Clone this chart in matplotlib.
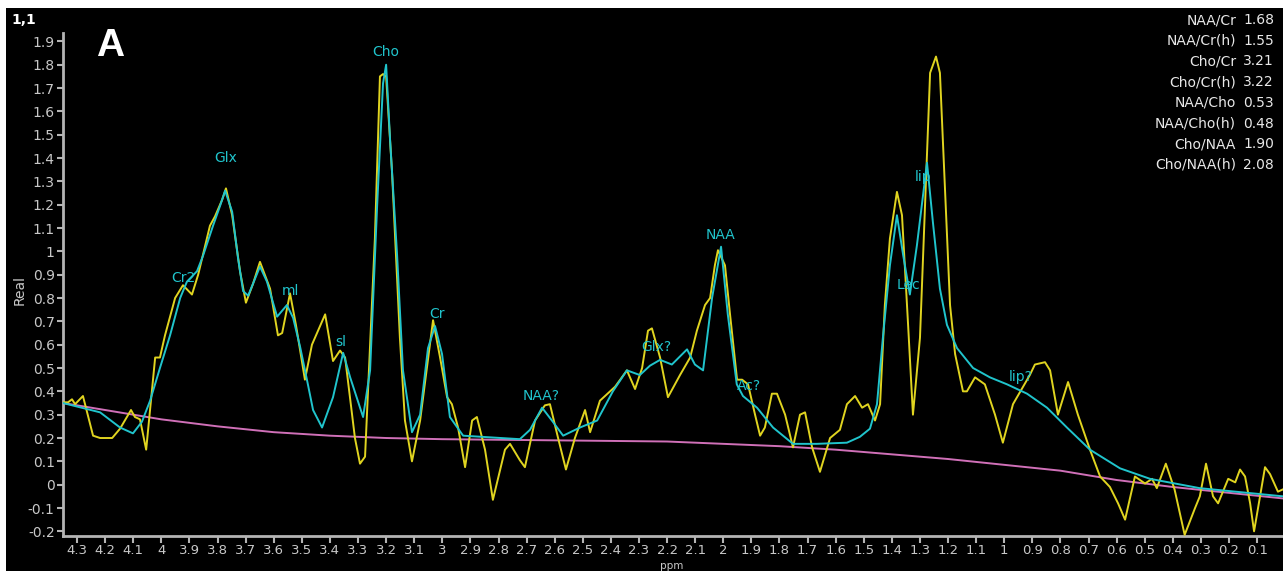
import matplotlib
matplotlib.use("Agg")
import matplotlib.pyplot as plt
from matplotlib.patches import Rectangle
import numpy as np

# Measured spectrum (real part), ppm axis runs right-to-left
spec_ppm = [4.350, 4.332, 4.318, 4.307, 4.279, 4.243, 4.218, 4.204, 4.175, 4.147,
            4.108, 4.094, 4.076, 4.054, 4.022, 4.005, 3.987, 3.951, 3.923, 3.891,
            3.869, 3.827, 3.809, 3.784, 3.770, 3.748, 3.720, 3.699, 3.674, 3.649,
            3.613, 3.585, 3.570, 3.542, 3.521, 3.489, 3.464, 3.417, 3.389, 3.364,
            3.346, 3.311, 3.293, 3.275, 3.240, 3.222, 3.211, 3.200, 3.179, 3.151,
            3.133, 3.108, 3.079, 3.033, 3.008, 2.983, 2.966, 2.944, 2.919, 2.894,
            2.877, 2.848, 2.820, 2.777, 2.759, 2.724, 2.706, 2.670, 2.635, 2.617,
            2.588, 2.560, 2.528, 2.492, 2.474, 2.439, 2.385, 2.343, 2.314, 2.289,
            2.268, 2.254, 2.225, 2.197, 2.154, 2.118, 2.094, 2.065, 2.047, 2.030,
            2.019, 1.994, 1.976, 1.951, 1.933, 1.912, 1.887, 1.869, 1.852, 1.827,
            1.809, 1.780, 1.752, 1.727, 1.709, 1.684, 1.656, 1.620, 1.585, 1.560,
            1.531, 1.506, 1.485, 1.460, 1.442, 1.425, 1.407, 1.382, 1.364, 1.343,
            1.325, 1.300, 1.282, 1.264, 1.243, 1.229, 1.211, 1.193, 1.175, 1.147,
            1.133, 1.104, 1.069, 1.033, 1.005, 0.969, 0.909, 0.891, 0.855, 0.837,
            0.809, 0.773, 0.738, 0.695, 0.659, 0.624, 0.595, 0.570, 0.535, 0.499,
            0.474, 0.457, 0.425, 0.394, 0.358, 0.321, 0.304, 0.282, 0.257, 0.239,
            0.203, 0.178, 0.161, 0.143, 0.125, 0.111, 0.072, 0.054, 0.026, 0.008]
spec_real = [0.353, 0.353, 0.366, 0.345, 0.380, 0.210, 0.200, 0.200, 0.200, 0.240,
             0.320, 0.290, 0.280, 0.150, 0.545, 0.545, 0.640, 0.800, 0.855, 0.815,
             0.900, 1.110, 1.150, 1.220, 1.270, 1.155, 0.915, 0.780, 0.860, 0.955,
             0.840, 0.640, 0.650, 0.820, 0.685, 0.450, 0.600, 0.730, 0.530, 0.575,
             0.545, 0.200, 0.090, 0.120, 1.055, 1.750, 1.760, 1.750, 1.340, 0.630,
             0.275, 0.100, 0.275, 0.705, 0.545, 0.375, 0.345, 0.245, 0.075, 0.275,
             0.290, 0.150, -0.065, 0.150, 0.175, 0.105, 0.075, 0.275, 0.340, 0.345,
             0.200, 0.065, 0.200, 0.320, 0.225, 0.360, 0.420, 0.490, 0.410, 0.500,
             0.660, 0.670, 0.545, 0.375, 0.470, 0.545, 0.660, 0.770, 0.800, 0.940,
             1.005, 0.940, 0.730, 0.450, 0.450, 0.430, 0.300, 0.210, 0.245, 0.390,
             0.390, 0.300, 0.160, 0.300, 0.310, 0.160, 0.055, 0.200, 0.235, 0.345,
             0.380, 0.330, 0.345, 0.275, 0.345, 0.770, 1.055, 1.255, 1.155, 0.700,
             0.300, 0.630, 1.195, 1.765, 1.835, 1.765, 1.270, 0.770, 0.560, 0.400,
             0.400, 0.460, 0.430, 0.300, 0.180, 0.345, 0.470, 0.515, 0.525, 0.490,
             0.300, 0.440, 0.300, 0.150, 0.035, -0.010, -0.080, -0.150, 0.035, 0.005,
             0.025, -0.015, 0.090, -0.020, -0.215, -0.100, -0.050, 0.090, -0.050, -0.080,
             0.025, 0.010, 0.065, 0.035, -0.080, -0.200, 0.075, 0.045, -0.030, -0.020]

# Fitted model
fit_ppm = [4.350, 4.218, 4.147, 4.101, 4.069, 4.040, 4.005, 3.969, 3.933, 3.909,
           3.873, 3.852, 3.816, 3.791, 3.773, 3.748, 3.727, 3.709, 3.691, 3.649,
           3.624, 3.588, 3.553, 3.531, 3.506, 3.481, 3.460, 3.428, 3.389, 3.353,
           3.328, 3.282, 3.257, 3.232, 3.211, 3.200, 3.186, 3.161, 3.140, 3.108,
           3.079, 3.051, 3.026, 3.001, 2.973, 2.926, 2.724, 2.688, 2.645, 2.610,
           2.570, 2.510, 2.449, 2.393, 2.343, 2.297, 2.261, 2.225, 2.183, 2.129,
           2.101, 2.072, 2.040, 2.008, 1.984, 1.952, 1.930, 1.880, 1.823, 1.752,
           1.667, 1.560, 1.514, 1.478, 1.453, 1.432, 1.407, 1.382, 1.360, 1.336,
           1.311, 1.275, 1.254, 1.229, 1.204, 1.168, 1.111, 1.051, 0.990, 0.919,
           0.848, 0.777, 0.695, 0.588, 0.481, 0.304, 0.008]
fit_real = [0.350, 0.310, 0.245, 0.220, 0.270, 0.360, 0.500, 0.640, 0.800, 0.870,
            0.915, 0.980, 1.110, 1.195, 1.260, 1.170, 0.970, 0.830, 0.810, 0.935,
            0.870, 0.720, 0.770, 0.715, 0.590, 0.445, 0.320, 0.245, 0.375, 0.565,
            0.460, 0.290, 0.490, 1.195, 1.720, 1.800, 1.480, 0.985, 0.490, 0.225,
            0.300, 0.585, 0.680, 0.560, 0.290, 0.210, 0.195, 0.235, 0.330, 0.275,
            0.210, 0.245, 0.275, 0.400, 0.490, 0.470, 0.510, 0.535, 0.515, 0.580,
            0.515, 0.490, 0.800, 1.020, 0.730, 0.430, 0.380, 0.330, 0.245, 0.175,
            0.175, 0.180, 0.205, 0.240, 0.345, 0.630, 0.940, 1.155, 0.985, 0.815,
            1.025, 1.380, 1.125, 0.840, 0.685, 0.585, 0.500, 0.460, 0.430, 0.390,
            0.330, 0.245, 0.150, 0.070, 0.025, -0.015, -0.050]

# Baseline
base_ppm = [4.35, 4.2, 4.0, 3.8, 3.6, 3.4, 3.2, 3.0, 2.6, 2.2, 2.0, 1.8, 1.6, 1.4,
            1.2, 1.0, 0.8, 0.6, 0.4, 0.2, 0.0]
base_real = [0.350, 0.320, 0.280, 0.250, 0.225, 0.210, 0.200, 0.195, 0.190, 0.185,
             0.175, 0.165, 0.150, 0.130, 0.110, 0.085, 0.060, 0.020, -0.010, -0.035,
             -0.060]

# Peak annotations
peak_names = ["Cr2", "Glx", "ml", "sl", "Cho", "Cr", "NAA?", "Glx?", "NAA", "Ac?",
              "Lec", "lip", "lip?"]
peak_ppm = [3.92, 3.77, 3.54, 3.36, 3.20, 3.02, 2.65, 2.24, 2.01, 1.91, 1.34, 1.29, 0.94]
peak_lbl_y = [0.885, 1.40, 0.83, 0.61, 1.855, 0.73, 0.38, 0.59, 1.07, 0.425, 0.855, 1.32, 0.46]

# Metabolite ratios
ratio_names = ["NAA/Cr", "NAA/Cr(h)", "Cho/Cr", "Cho/Cr(h)", "NAA/Cho", "NAA/Cho(h)",
               "Cho/NAA", "Cho/NAA(h)"]
ratio_values = [1.68, 1.55, 3.21, 3.22, 0.53, 0.48, 1.90, 2.08]

W, H = 1283, 571
narrow = ["Liberation Sans Narrow", "DejaVu Sans"]
grey = "#b4b4b4"

fig = plt.figure(figsize=(W / 100, H / 100), dpi=100)
fig.patch.set_facecolor("white")
fig.patches.append(Rectangle((6 / W, 0), 1, 1 - 8 / H, transform=fig.transFigure,
                             facecolor="black", edgecolor="none", zorder=-10))

ax = fig.add_axes([63 / W, 35 / H, 1 - 63 / W, 503 / H])
ax.set_facecolor("black")
ax.patch.set_alpha(0)

ax.plot(base_ppm, base_real, color="#d070b8", lw=1.4, zorder=2)
ax.plot(spec_ppm, spec_real, color="#e0d420", lw=1.4, zorder=3)
ax.plot(fit_ppm, fit_real, color="#20c4cc", lw=1.4, zorder=4)

for name, p, y in zip(peak_names, peak_ppm, peak_lbl_y):
    ax.text(p, y, name, color="#20c4cc", fontsize=10, family=narrow,
            ha="center", va="center", zorder=5)

ax.set_xlim(4.35, 0.008)
ax.set_ylim(-0.22, 1.936)

xt = np.round(np.arange(4.3, 0.05, -0.1), 1)
ax.set_xticks(xt)
ax.set_xticklabels(["%g" % v for v in xt])
yt = np.round(np.arange(-0.2, 1.95, 0.1), 1)
ax.set_yticks(yt)
ax.set_yticklabels(["%g" % v for v in yt])

for s in ["top", "right"]:
    ax.spines[s].set_visible(False)
for s in ["left", "bottom"]:
    ax.spines[s].set_color(grey)
    ax.spines[s].set_linewidth(2)
ax.tick_params(colors=grey, labelcolor="#c8c8c8", width=1.5)
ax.tick_params(axis="x", length=5, pad=0.5)
ax.tick_params(axis="y", length=4, pad=2)
for lbl in ax.get_xticklabels() + ax.get_yticklabels():
    lbl.set_family(narrow)
    lbl.set_fontsize(10)
for lbl in ax.get_xticklabels():
    lbl.set_fontsize(9.5)

fig.text(20 / W, 1 - 290 / H, "Real", rotation=90, color="#c8c8c8", fontsize=10,
         family=narrow, ha="center", va="center")
fig.text(672 / W, 0, "ppm", color="#c8c8c8", fontsize=7.5, family=narrow,
         ha="center", va="bottom")
fig.text(11 / W, 1 - 20 / H, "1,1", color="white", fontsize=10, family=narrow,
         fontweight="bold", ha="left", va="center")
fig.text(110 / W, 1 - 46 / H, "A", color="white", fontsize=28, fontweight="bold",
         family="Liberation Sans", ha="center", va="center")

# ratio table in the top right corner
for i, (name, val) in enumerate(zip(ratio_names, ratio_values)):
    y = 1 - (20 + i * 20.7) / H
    fig.text(1236 / W, y, name, color="#e8e8e8", fontsize=10, family=narrow,
             ha="right", va="center")
    fig.text(1243 / W, y, "%.2f" % val, color="#e8e8e8", fontsize=10, family=narrow,
             ha="left", va="center")

fig.savefig("out.png", dpi=100, facecolor=fig.get_facecolor())
